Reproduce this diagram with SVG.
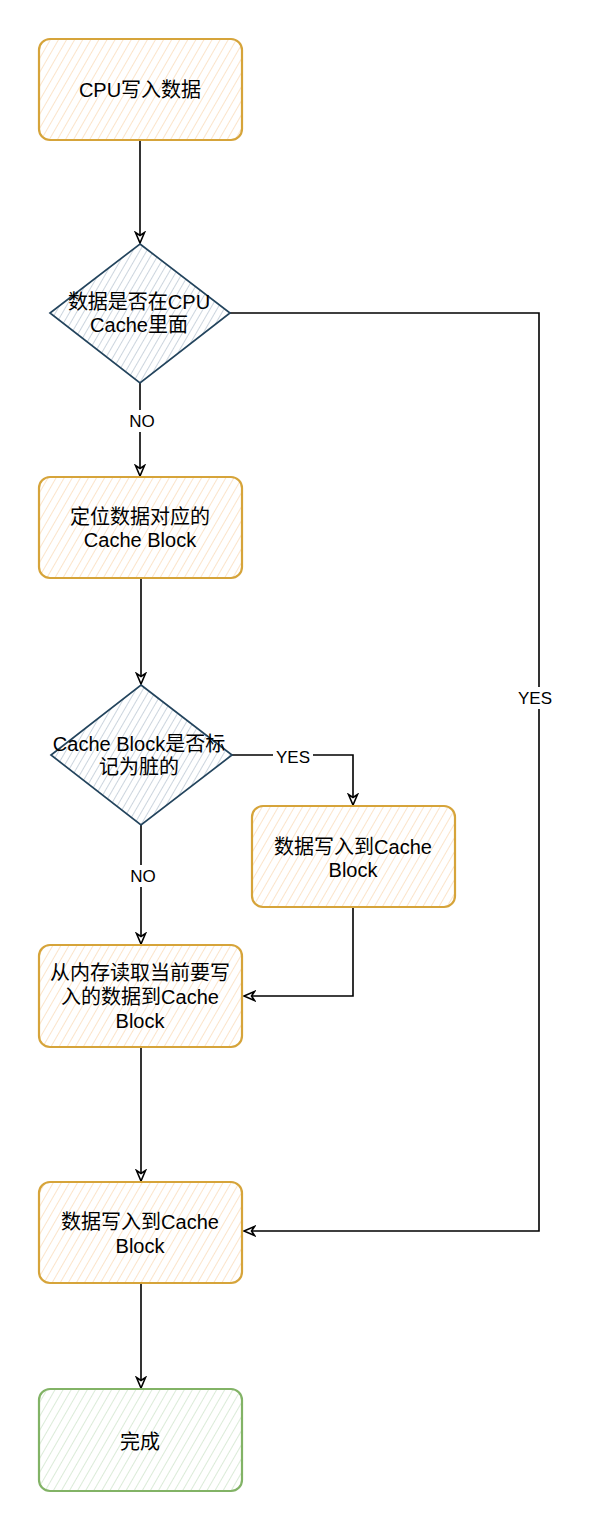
<svg xmlns="http://www.w3.org/2000/svg" width="592" height="1528" viewBox="0 0 592 1528">
  <defs>
    <pattern id="hatchOrange" width="7" height="7" patternUnits="userSpaceOnUse" patternTransform="rotate(30)">
      <line x1="0" y1="0" x2="0" y2="7" stroke="#f9d9b3" stroke-width="1.4"/>
    </pattern>
    <pattern id="hatchBlue" width="6" height="6" patternUnits="userSpaceOnUse" patternTransform="rotate(30)">
      <line x1="0" y1="0" x2="0" y2="6" stroke="#a9b9c7" stroke-width="1.2"/>
    </pattern>
    <pattern id="hatchGreen" width="7" height="7" patternUnits="userSpaceOnUse" patternTransform="rotate(30)">
      <line x1="0" y1="0" x2="0" y2="7" stroke="#cce2c7" stroke-width="1.4"/>
    </pattern>
    <marker id="arrow" markerUnits="userSpaceOnUse" markerWidth="14" markerHeight="12" refX="12" refY="6" orient="auto">
      <path d="M1.5,1.5 L12,6 L1.5,10.5 L4.5,6 Z" fill="#ffffff" stroke="#000000" stroke-width="1.6" stroke-linejoin="miter"/>
    </marker>
  </defs>
  <style>
    .proc { fill: url(#hatchOrange); stroke: #d6a43a; stroke-width: 2.2; }
    .dec { fill: url(#hatchBlue); stroke: #23445d; stroke-width: 1.7; }
    .done { fill: url(#hatchGreen); stroke: #82b366; stroke-width: 2.2; }
    .t { font-family: "Liberation Sans", "Noto Sans CJK SC", sans-serif; font-size: 20px; fill: #000000; text-anchor: middle; }
    .lbl { font-family: "Liberation Sans", "Noto Sans CJK SC", sans-serif; font-size: 17px; fill: #000000; text-anchor: middle; }
    .edge { fill: none; stroke: #000000; stroke-width: 1.6; marker-end: url(#arrow); }
    .lblbg { fill: #ffffff; }
  </style>
  <rect width="592" height="1528" fill="#ffffff"/>

  <g id="connectors">
    <path class="edge" d="M140 141 V243"/>
    <path class="edge" d="M140 383 V476"/>
    <path class="edge" d="M141 578 V684"/>
    <path class="edge" d="M230 313 H539 V1231 H244"/>
    <path class="edge" d="M232 755 H353 V805"/>
    <path class="edge" d="M353 908 V996 H244"/>
    <path class="edge" d="M141 825 V944"/>
    <path class="edge" d="M141 1048 V1181"/>
    <path class="edge" d="M141 1283 V1388"/>
    <g id="edge-labels">
      <rect class="lblbg" x="126" y="410" width="32" height="22"/>
      <text class="lbl" x="142" y="427">NO</text>
      <rect class="lblbg" x="127" y="865" width="32" height="22"/>
      <text class="lbl" x="143" y="882">NO</text>
      <rect class="lblbg" x="273" y="746" width="40" height="22"/>
      <text class="lbl" x="293" y="763">YES</text>
      <rect class="lblbg" x="515" y="687" width="40" height="22"/>
      <text class="lbl" x="535" y="704">YES</text>
    </g>
  </g>

  <g id="n1">
    <rect class="proc" x="39" y="39" width="203" height="101" rx="11"/>
    <text class="t" x="140" y="97">CPU写入数据</text>
  </g>

  <g id="n2">
    <polygon class="dec" points="140,244 230,313 140,383 50,313"/>
    <text class="t" x="139" y="309">数据是否在CPU</text>
    <text class="t" x="139" y="332">Cache里面</text>
  </g>

  <g id="n3">
    <rect class="proc" x="39" y="477" width="203" height="101" rx="11"/>
    <text class="t" x="140" y="524">定位数据对应的</text>
    <text class="t" x="140" y="547">Cache Block</text>
  </g>

  <g id="n4">
    <polygon class="dec" points="141,685 232,755 141,825 51,755"/>
    <text class="t" x="139" y="751">Cache Block是否标</text>
    <text class="t" x="139" y="774">记为脏的</text>
  </g>

  <g id="n5">
    <rect class="proc" x="252" y="806" width="203" height="101" rx="11"/>
    <text class="t" x="353" y="854">数据写入到Cache</text>
    <text class="t" x="353" y="877">Block</text>
  </g>

  <g id="n6">
    <rect class="proc" x="39" y="945" width="203" height="102" rx="11"/>
    <text class="t" x="140" y="980">从内存读取当前要写</text>
    <text class="t" x="140" y="1004">入的数据到Cache</text>
    <text class="t" x="140" y="1028">Block</text>
  </g>

  <g id="n7">
    <rect class="proc" x="39" y="1182" width="203" height="101" rx="11"/>
    <text class="t" x="140" y="1229">数据写入到Cache</text>
    <text class="t" x="140" y="1253">Block</text>
  </g>

  <g id="n8">
    <rect class="done" x="39" y="1389" width="203" height="102" rx="11"/>
    <text class="t" x="140" y="1449">完成</text>
  </g>
</svg>
